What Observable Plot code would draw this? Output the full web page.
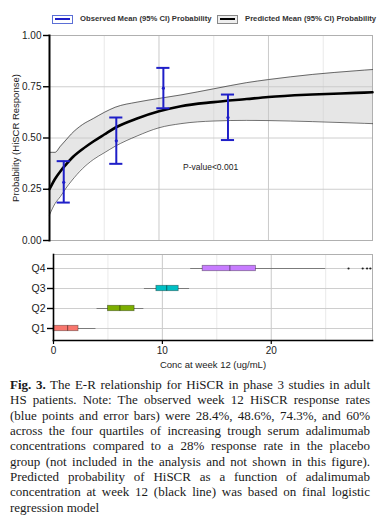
<!DOCTYPE html>
<html>
<head>
<meta charset="utf-8">
<script src="https://cdn.jsdelivr.net/npm/d3@7"></script>
<script src="https://cdn.jsdelivr.net/npm/@observablehq/plot@0.6"></script>
<style>
  body { margin: 0; background: #fff; width: 386px; height: 523px; overflow: hidden; position: relative; }
  #legend { position: absolute; top: 0; left: 0; width: 386px; height: 28px; font-family: "Liberation Sans", Arial, sans-serif; }
  .key { position: absolute; top: 14.5px; width: 21px; height: 9px; box-sizing: border-box; }
  .key .ln { position: absolute; left: 2px; right: 2px; top: 2.5px; height: 2.2px; }
  .lt { position: absolute; top: 13px; font-size: 7.7px; font-weight: bold; color: #333; white-space: nowrap; line-height: 12px; }
  #top { position: absolute; top: 28px; left: 0; }
  #bottom { position: absolute; top: 250px; left: 0; }
  #caption { position: absolute; top: 377px; left: 10px; width: 360px; font-family: "Liberation Serif", "Times New Roman", serif; font-size: 13px; line-height: 15.35px; color: #1a1a1a; }
  #caption div { text-align: justify; text-align-last: justify; white-space: nowrap; }
  #caption div.last { text-align-last: left; }
</style>
</head>
<body>
<div id="legend">
  <div class="key" style="left:52px;border:1px solid #5b6fd6;background:#fff"><div class="ln" style="background:#1f1fc8"></div></div>
  <div class="lt" style="left:80px">Observed Mean (95% CI) Probability</div>
  <div class="key" style="left:217px;border:1px solid #888;background:#eee"><div class="ln" style="background:#000"></div></div>
  <div class="lt" style="left:245px">Predicted Mean (95% CI) Probability</div>
</div>
<div id="top"></div>
<div id="bottom"></div>
<div id="caption">
  <div><b>Fig. 3.</b> The E-R relationship for HiSCR in phase 3 studies in adult</div>
  <div>HS patients. Note: The observed week 12 HiSCR response rates</div>
  <div>(blue points and error bars) were 28.4%, 48.6%, 74.3%, and 60%</div>
  <div>across the four quartiles of increasing trough serum adalimumab</div>
  <div>concentrations compared to a 28% response rate in the placebo</div>
  <div>group (not included in the analysis and not shown in this figure).</div>
  <div>Predicted probability of HiSCR as a function of adalimumab</div>
  <div>concentration at week 12 (black line) was based on final logistic</div>
  <div class="last">regression model</div>
</div>
<script>
// ---- Data ----
const concGrid  = [0, 0.5, 1, 1.5, 2, 3, 4, 5, 6, 8, 10, 12, 15, 18, 20, 24, 28, 29.5];
const predMean  = [0.25, 0.30, 0.338, 0.37, 0.40, 0.445, 0.483, 0.517, 0.55, 0.595, 0.63, 0.655, 0.675, 0.69, 0.70, 0.712, 0.72, 0.723];
const predUpper = [0.43, 0.43, 0.46, 0.49, 0.52, 0.565, 0.595, 0.625, 0.65, 0.675, 0.693, 0.71, 0.74, 0.77, 0.785, 0.81, 0.828, 0.834];
const predLower = [0.125, 0.18, 0.215, 0.255, 0.29, 0.35, 0.395, 0.428, 0.46, 0.51, 0.55, 0.57, 0.583, 0.586, 0.585, 0.58, 0.573, 0.57];

const obsConc  = [1.3, 6.1, 10.4, 16.3];
const obsMean  = [0.284, 0.486, 0.743, 0.60];
const obsLower = [0.185, 0.374, 0.645, 0.49];
const obsUpper = [0.387, 0.60, 0.842, 0.712];

const quartiles  = ["Q1", "Q2", "Q3", "Q4"];
const whiskerLo  = [0.0, 4.0, 8.35, 12.6];
const boxLo      = [0.0, 5.0, 9.45, 13.7];
const medianConc = [1.3, 6.1, 10.4, 16.2];
const boxHi      = [2.3, 7.45, 11.5, 18.6];
const whiskerHi  = [3.9, 8.3, 12.5, 25.0];
const outlierQ   = ["Q4", "Q4", "Q4", "Q4"];
const outlierVal = [27.1, 28.4, 28.8, 29.1];

const yTicks = [0, 0.25, 0.5, 0.75, 1];
const xTicks = [0, 10, 20];
const pLabel = ["P-value<0.001"];
const pPos = {x: 12.2, y: 0.356};
const yTitle = "Probability (HiSCR Response)";
const xTitle = "Conc at week 12 (ug/mL)";
const capHalfWidth = 0.6; // error-bar cap half width, in concentration units

// ---- Tables ----
const pred = concGrid.map((c, i) => ({conc: c, mean: predMean[i], lo: predLower[i], hi: predUpper[i]}));
const obs = obsConc.map((c, i) => ({conc: c, mean: obsMean[i], lo: obsLower[i], hi: obsUpper[i]}));
const stats = quartiles.map((q, i) => ({q, wlo: whiskerLo[i], blo: boxLo[i], med: medianConc[i], bhi: boxHi[i], whi: whiskerHi[i]}));
const outliers = outlierVal.map((v, i) => ({q: outlierQ[i], v}));

const font = {fontFamily: "'Liberation Sans', Arial, sans-serif", fontSize: "10px", color: "#222", background: "#fff"};
const blue = "#1f1fc8";

const topPlot = Plot.plot({
  width: 386, height: 222,
  marginTop: 7, marginBottom: 10, marginLeft: 49, marginRight: 14,
  style: font,
  x: {domain: [0, 29.5], axis: null},
  y: {domain: [0, 1]},
  marks: [
    Plot.gridX([5, 15, 25], {stroke: "#dadada", strokeOpacity: 1, strokeWidth: 0.6}),
    Plot.gridX([10, 20], {stroke: "#c4c4c4", strokeOpacity: 1, strokeWidth: 0.9}),
    Plot.gridY([0.25, 0.5, 0.75], {stroke: "#c8c8c8", strokeOpacity: 1, strokeWidth: 0.9}),
    Plot.frame({stroke: "#b0b0b0", strokeWidth: 1}),
    Plot.areaY(pred, {x: "conc", y1: "lo", y2: "hi", fill: "#c8c8c8", fillOpacity: 0.45, curve: "monotone-x"}),
    Plot.line(pred, {x: "conc", y: "hi", stroke: "#111", strokeWidth: 0.6, curve: "monotone-x"}),
    Plot.line(pred, {x: "conc", y: "lo", stroke: "#111", strokeWidth: 0.6, curve: "monotone-x"}),
    Plot.line(pred, {x: "conc", y: "mean", stroke: "#000", strokeWidth: 2.6, curve: "monotone-x"}),
    Plot.ruleX(obs, {x: "conc", y1: "lo", y2: "hi", stroke: blue, strokeWidth: 2}),
    Plot.ruleY(obs, {y: "hi", x1: d => d.conc - capHalfWidth, x2: d => d.conc + capHalfWidth, stroke: blue, strokeWidth: 2}),
    Plot.ruleY(obs, {y: "lo", x1: d => d.conc - capHalfWidth, x2: d => d.conc + capHalfWidth, stroke: blue, strokeWidth: 2}),
    Plot.dot(obs, {x: "conc", y: "mean", r: 1.6, fill: blue}),
    Plot.text(pLabel, {x: pPos.x, y: pPos.y, text: d => d, textAnchor: "start", fontSize: 8.5, fill: "#222"}),
    Plot.frame({anchor: "left", stroke: "#000", strokeWidth: 2}),
    Plot.axisY(yTicks, {tickSize: 6, tickPadding: 2, tickFormat: ".2f", stroke: "#000", strokeWidth: 1.4, fontSize: 10, label: null}),
    Plot.text([yTitle], {frameAnchor: "left", textAnchor: "middle", dx: -34, rotate: -90, fontSize: 9.5, fill: "#222"})
  ]
});
document.getElementById("top").append(topPlot);

const bottomPlot = Plot.plot({
  width: 386, height: 122,
  marginTop: 4, marginBottom: 32, marginLeft: 53, marginRight: 14,
  style: font,
  x: {domain: [0, 29.3]},
  y: {domain: ["Q4", "Q3", "Q2", "Q1"], range: [6.67, 89.33], padding: 0},
  color: {domain: quartiles, range: ["#F8766D", "#7CAE00", "#00BFC4", "#C77CFF"]},
  marks: [
    Plot.gridX([5, 15, 25], {stroke: "#dadada", strokeOpacity: 1, strokeWidth: 0.6}),
    Plot.gridX([10, 20], {stroke: "#c4c4c4", strokeOpacity: 1, strokeWidth: 0.9}),
    Plot.ruleY(quartiles, {y: d => d, stroke: "#c8c8c8", strokeWidth: 0.9}),
    Plot.frame({stroke: "#b0b0b0", strokeWidth: 1}),
    Plot.ruleY(stats, {y: "q", x1: "wlo", x2: "whi", stroke: "#666", strokeWidth: 0.8}),
    Plot.barX(stats, {y: "q", x1: "blo", x2: "bhi", fill: "q", stroke: "#000", strokeOpacity: 0.4, strokeWidth: 0.8, insetTop: 7.3, insetBottom: 7.3}),
    Plot.tickX(stats, {y: "q", x: "med", stroke: "#000", strokeOpacity: 0.55, strokeWidth: 0.9, insetTop: 7.3, insetBottom: 7.3}),
    Plot.dot(outliers, {x: "v", y: "q", r: 1.1, fill: "#222"}),
    Plot.frame({anchor: "left", stroke: "#000", strokeWidth: 1.6}),
    Plot.frame({anchor: "bottom", stroke: "#000", strokeWidth: 1.6}),
    Plot.axisY({tickSize: 6, tickPadding: 2, stroke: "#000", strokeWidth: 1.4, fontSize: 10.5, label: null}),
    Plot.axisX(xTicks, {tickSize: 4, tickPadding: 2, stroke: "#000", strokeWidth: 1.2, fontSize: 10, label: null}),
    Plot.text([xTitle], {frameAnchor: "bottom", dy: 27, fontSize: 9.5, fill: "#222"})
  ]
});
document.getElementById("bottom").append(bottomPlot);
</script>
</body>
</html>
